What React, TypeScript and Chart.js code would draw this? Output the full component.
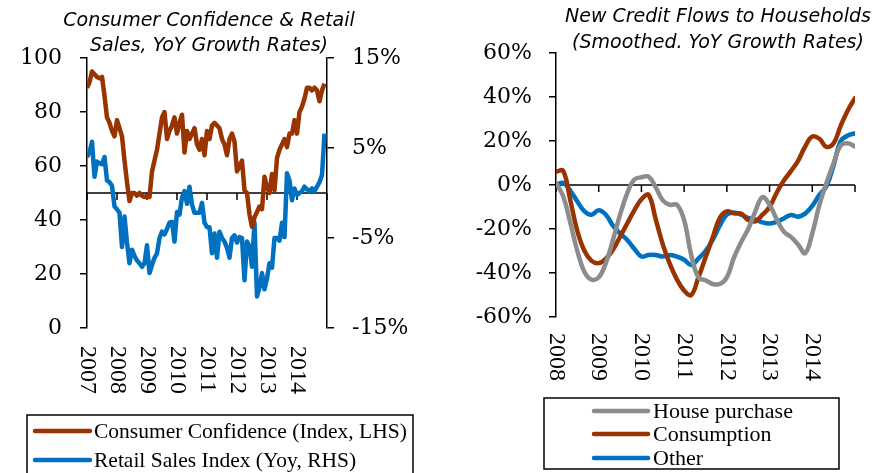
import { useEffect, useRef } from "react";
import { Chart, registerables } from "chart.js";

Chart.register(...registerables);

// ---------- Left panel data (monthly, Jan 2007 .. Dec 2014) ----------
const LEFT_START_YEAR = 2007;
const LEFT_YEAR_LABELS = [2007, 2008, 2009, 2010, 2011, 2012, 2013, 2014];
const CONSUMER_CONFIDENCE = [
  89, 91, 95, 94, 93, 92.5, 93, 86, 78, 76, 73, 71,
  77, 74, 71, 62, 54, 47, 50, 50, 49, 50, 49, 48.5,
  49, 48.5, 58, 62, 66, 72, 78, 80, 70, 73, 75, 78,
  72, 76, 79, 65, 73, 70, 72, 74, 68, 66, 70, 64,
  73, 70, 75, 76, 75, 74, 70, 68, 64, 70, 72, 69,
  58, 60, 62, 51, 50, 42, 37.5, 41, 43, 45, 44, 56,
  52, 50, 57, 51, 63, 66, 68, 70, 67, 72, 72, 77,
  72, 80, 82, 85, 89, 89, 88, 89, 88, 84, 88, 90.5,
];
const RETAIL_SALES = [
  4.0, 4.5, 5.7, 1.8, 3.5, 3.3, 3.2, 4.0, 1.4, 1.2, 0.8, -1.5,
  -1.8, -2.2, -6.0, -2.6, -5.5, -7.8, -6.3, -7.0, -7.5, -7.8, -8.2, -7.8,
  -5.8, -8.9, -8.0, -7.2, -6.7, -5.0, -4.3, -4.6, -4.0, -3.3, -3.2, -5.4,
  -2.1, -2.4, -0.5, 0.2, -1.2, 0.7, -1.3, -2.2, -2.2, -2.2, -1.1, -3.3,
  -3.8, -3.8, -6.7, -4.5, -7.2, -4.3, -5.0, -5.4, -6.1, -7.2, -5.0, -4.7,
  -5.5, -4.9, -5.0, -9.7, -5.4, -5.9, -8.2, -3.3, -11.5, -10.5, -8.9, -10.7,
  -9.5, -7.8, -8.3, -5.0, -5.0, -5.3, -3.3, -4.9, 2.2, 1.4, -0.8, 0.5,
  -0.2, 0.0, 0.2, 0.7, 0.4, 0.2, 0.5, 0.2, 0.7, 1.2, 2.0, 6.6,
];
const LEFT_Y_TICKS = { min: 0, max: 100, step: 20 };
const RIGHT_Y_TICKS = { min: -15, max: 15, step: 10 };

// ---------- Right panel data (bi-monthly, Jan 2008 .. Dec 2014) ----------
const RIGHT_START_YEAR = 2008;
const RIGHT_YEAR_LABELS = [2008, 2009, 2010, 2011, 2012, 2013, 2014];
const HOUSE_PURCHASE = [
  1, -5, -17, -30, -39.5, -43, -42, -35.5, -25, -13.5, -3.8, 2.5,
  3.5, 3.8, -1, -7, -9, -9, -16, -32, -42, -43.3, -45, -45,
  -42, -33, -26, -20, -12, -5.5, -9, -15.5, -21.2, -23.6, -27, -31,
  -22, -9, 1, 10, 18, 19, 17.5,
];
const CONSUMPTION = [
  6, 6.5, -6.8, -21, -30, -34.5, -35.5, -33.5, -29.5, -23.5, -17.5, -11.5,
  -6.5, -4.5, -15.5, -27, -36, -43, -48, -50, -42, -33, -24, -15,
  -12, -12.9, -13, -15.9, -16.5, -13.5, -10, -3.5, 2, 6.3, 11, 17.5,
  22, 21, 17.3, 19, 27, 34, 39.5,
];
const OTHER = [
  0, 1, -2.5, -7.5, -12, -13.5, -11.5, -13.5, -18.5, -22, -25, -29,
  -32.5, -31.8, -31.8, -32.5, -31.8, -32.6, -34, -36.4, -33.5, -30, -25, -18.5,
  -13.5, -12.5, -13.5, -15, -15.7, -17, -17.5, -16.8, -15.2, -13.6, -14.4, -13,
  -9.5, -4.5, -0.5, 9, 20, 22.5, 23.5,
];
const CREDIT_Y_TICKS = { min: -60, max: 60, step: 20 };

const BROWN = "#993300";
const BLUE = "#0070C0";
const GREY = "#8C8C8C";

const TICK_FONT = { family: "'DejaVu Serif'", size: 22 };
const XLABEL_FONT = "24px 'Liberation Serif'";
const TITLE_FONT = "italic 19px 'DejaVu Sans'";

const monthly = (start: number, vals: number[], perYear: number) =>
  vals.map((v, i) => ({ x: start + i / perYear, y: v }));

function drawXAxis(chart: any, yId: string, cross: number, firstYear: number, lastYear: number) {
  const { ctx } = chart;
  const xs = chart.scales.x;
  const ys = chart.scales[yId];
  const y0 = ys.getPixelForValue(cross);
  ctx.save();
  ctx.strokeStyle = "#000";
  ctx.lineWidth = 1.5;
  ctx.beginPath();
  ctx.moveTo(xs.left, y0);
  ctx.lineTo(xs.right, y0);
  for (let yr = firstYear; yr <= lastYear; yr++) {
    const x = xs.getPixelForValue(yr);
    ctx.moveTo(x, y0);
    ctx.lineTo(x, y0 + 7);
  }
  ctx.stroke();
  ctx.restore();
}

function drawYearLabels(chart: any, years: number[], offset: number) {
  const { ctx } = chart;
  const xs = chart.scales.x;
  ctx.save();
  ctx.font = XLABEL_FONT;
  ctx.fillStyle = "#000";
  ctx.textAlign = "left";
  ctx.textBaseline = "middle";
  years.forEach((yr) => {
    const x = xs.getPixelForValue(yr);
    ctx.save();
    ctx.translate(x, chart.chartArea.bottom + offset);
    ctx.rotate(Math.PI / 2);
    ctx.fillText(String(yr), 0, 0);
    ctx.restore();
  });
  ctx.restore();
}

function drawTitle(ctx: CanvasRenderingContext2D, lines: string[], cx: number, baselines: number[]) {
  ctx.save();
  ctx.font = TITLE_FONT;
  ctx.fillStyle = "#000";
  ctx.textAlign = "center";
  ctx.textBaseline = "alphabetic";
  lines.forEach((l, i) => ctx.fillText(l, cx, baselines[i]));
  ctx.restore();
}

function drawLegend(
  ctx: CanvasRenderingContext2D,
  box: [number, number, number, number],
  items: { label: string; color: string }[],
  sx0: number,
  sx1: number,
  tx: number,
  rows: number[],
  fontSize: number
) {
  ctx.save();
  ctx.fillStyle = "#fff";
  ctx.fillRect(box[0], box[1], box[2] - box[0], box[3] - box[1]);
  ctx.strokeStyle = "#000";
  ctx.lineWidth = 1.5;
  ctx.strokeRect(box[0], box[1], box[2] - box[0], box[3] - box[1]);
  ctx.font = `${fontSize}px 'Liberation Serif'`;
  ctx.textAlign = "left";
  ctx.textBaseline = "middle";
  items.forEach((it, i) => {
    ctx.strokeStyle = it.color;
    ctx.lineWidth = 4.5;
    ctx.lineCap = "round";
    ctx.beginPath();
    ctx.moveTo(sx0, rows[i]);
    ctx.lineTo(sx1, rows[i]);
    ctx.stroke();
    ctx.fillStyle = "#000";
    ctx.fillText(it.label, tx, rows[i] + 1);
  });
  ctx.restore();
}

const axisStyle = (extra: any) => ({
  grid: { drawOnChartArea: false, drawTicks: true, tickLength: 7, color: "#000", lineWidth: 1.5 },
  border: { display: true, color: "#000", width: 1.5 },
  ...extra,
});

function LeftChart() {
  const ref = useRef<HTMLCanvasElement>(null);
  useEffect(() => {
    if (!ref.current) return;
    const decor = {
      id: "leftDecor",
      beforeDatasetsDraw(chart: any) {
        drawXAxis(chart, "y", 50, LEFT_START_YEAR, LEFT_START_YEAR + LEFT_YEAR_LABELS.length);
      },
      afterDraw(chart: any) {
        drawYearLabels(chart, LEFT_YEAR_LABELS, 18);
        drawTitle(chart.ctx, ["Consumer Confidence & Retail", "Sales, YoY Growth Rates)"], 209, [26, 51]);
        drawLegend(
          chart.ctx,
          [27, 415, 413, 478],
          [
            { label: "Consumer Confidence (Index, LHS)", color: BROWN },
            { label: "Retail Sales Index (Yoy, RHS)", color: BLUE },
          ],
          35,
          90,
          94,
          [431, 460],
          21.5
        );
      },
    };
    const chart = new Chart(ref.current, {
      type: "line",
      data: {
        datasets: [
          {
            label: "Consumer Confidence (Index, LHS)",
            data: monthly(LEFT_START_YEAR, CONSUMER_CONFIDENCE, 12),
            borderColor: BROWN,
            borderWidth: 4.5,
            pointRadius: 0,
            yAxisID: "y",
            borderJoinStyle: "round",
          },
          {
            label: "Retail Sales Index (Yoy, RHS)",
            data: monthly(LEFT_START_YEAR, RETAIL_SALES, 12),
            borderColor: BLUE,
            borderWidth: 4.5,
            pointRadius: 0,
            yAxisID: "y2",
            borderJoinStyle: "round",
          },
        ],
      },
      options: {
        animation: false,
        responsive: false,
        layout: { padding: { left: 0, right: 0, top: 58, bottom: 145 } },
        plugins: { legend: { display: false }, tooltip: { enabled: false }, title: { display: false } },
        scales: {
          x: {
            type: "linear",
            min: LEFT_START_YEAR,
            max: LEFT_START_YEAR + LEFT_YEAR_LABELS.length,
            display: false,
          },
          y: axisStyle({
            position: "left",
            min: LEFT_Y_TICKS.min,
            max: LEFT_Y_TICKS.max,
            ticks: { stepSize: LEFT_Y_TICKS.step, color: "#000", font: TICK_FONT, padding: 18 },
            afterFit: (s: any) => {
              s.width = 87;
            },
          }),
          y2: axisStyle({
            position: "right",
            min: RIGHT_Y_TICKS.min,
            max: RIGHT_Y_TICKS.max,
            ticks: {
              stepSize: RIGHT_Y_TICKS.step,
              color: "#000",
              font: TICK_FONT,
              padding: 18,
              callback: (v: any) => v + "%",
            },
            afterFit: (s: any) => {
              s.width = 117;
            },
          }),
        },
      } as any,
      plugins: [decor],
    });
    return () => chart.destroy();
  }, []);
  return <canvas ref={ref} width={444} height={473} style={{ position: "absolute", left: 0, top: 0 }} />;
}

function RightChart() {
  const ref = useRef<HTMLCanvasElement>(null);
  useEffect(() => {
    if (!ref.current) return;
    const decor = {
      id: "rightDecor",
      beforeDatasetsDraw(chart: any) {
        drawXAxis(chart, "y", 0, RIGHT_START_YEAR, RIGHT_START_YEAR + RIGHT_YEAR_LABELS.length);
      },
      afterDraw(chart: any) {
        drawYearLabels(chart, RIGHT_YEAR_LABELS, 16);
        drawTitle(chart.ctx, ["New Credit Flows to Households", "(Smoothed. YoY Growth Rates)"], 274, [21.5, 47.5]);
        drawLegend(
          chart.ctx,
          [100, 398, 395, 469],
          [
            { label: "House purchase", color: GREY },
            { label: "Consumption", color: BROWN },
            { label: "Other", color: BLUE },
          ],
          150,
          204,
          209,
          [411, 434, 458],
          22
        );
      },
    };
    const mk = (label: string, vals: number[], color: string) => ({
      label,
      data: monthly(RIGHT_START_YEAR, vals, 6),
      borderColor: color,
      borderWidth: 4.5,
      pointRadius: 0,
      tension: 0.4,
      borderJoinStyle: "round",
      borderCapStyle: "round",
    });
    const chart = new Chart(ref.current, {
      type: "line",
      data: {
        datasets: [
          mk("House purchase", HOUSE_PURCHASE, GREY),
          mk("Consumption", CONSUMPTION, BROWN),
          mk("Other", OTHER, BLUE),
        ],
      },
      options: {
        animation: false,
        responsive: false,
        layout: { padding: { left: 0, right: 33, top: 53, bottom: 156 } },
        plugins: { legend: { display: false }, tooltip: { enabled: false }, title: { display: false } },
        scales: {
          x: {
            type: "linear",
            min: RIGHT_START_YEAR,
            max: RIGHT_START_YEAR + RIGHT_YEAR_LABELS.length,
            display: false,
          },
          y: axisStyle({
            position: "left",
            min: CREDIT_Y_TICKS.min,
            max: CREDIT_Y_TICKS.max,
            ticks: {
              stepSize: CREDIT_Y_TICKS.step,
              color: "#000",
              font: TICK_FONT,
              padding: 17,
              callback: (v: any) => v + "%",
            },
            afterFit: (s: any) => {
              s.width = 112;
            },
          }),
        },
      } as any,
      plugins: [decor],
    });
    return () => chart.destroy();
  }, []);
  return <canvas ref={ref} width={444} height={473} style={{ position: "absolute", left: 444, top: 0 }} />;
}

export default function App() {
  return (
    <div style={{ position: "absolute", left: 0, top: 0, width: 888, height: 473, background: "#fff", overflow: "hidden" }}>
      <LeftChart />
      <RightChart />
    </div>
  );
}
